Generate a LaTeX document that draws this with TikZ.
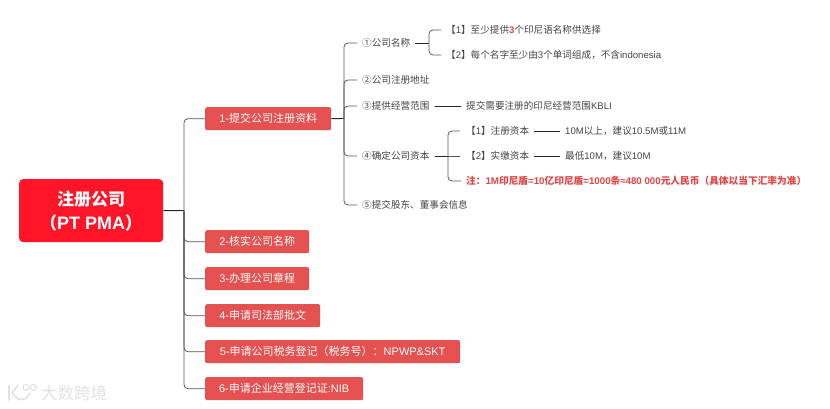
\documentclass[tikz,border=0pt]{standalone}
\usepackage{fontspec}
\setmainfont{Noto Sans CJK SC}
\newfontfamily\latf{Liberation Sans}
\newcommand{\lat}[1]{{\latf #1}}
\definecolor{rootred}{HTML}{FF1428}
\definecolor{subred}{HTML}{E55050}
\definecolor{notered}{HTML}{E24545}
\definecolor{txt}{HTML}{444444}
\definecolor{linec}{HTML}{555555}
\definecolor{wm}{HTML}{E2E2E2}
\tikzset{
  rootbox/.style={fill=rootred,rounded corners=4pt,text=white,font=\fontsize{17}{24}\selectfont\bfseries,align=center,anchor=north west,minimum width=144pt,minimum height=63pt,inner sep=0pt},
  mainbox/.style={fill=subred,rounded corners=2pt,text=white,font=\fontsize{11}{13}\selectfont,anchor=north west,minimum height=23pt,inner sep=0pt},
  item/.style={text=txt,font=\fontsize{9.6}{11}\selectfont,anchor=west,inner xsep=5pt,inner ysep=0pt},
  conn/.style={draw=linec,line width=0.8pt,rounded corners=4pt},
  darkconn/.style={draw=black!85,line width=0.9pt}
}
\begin{document}
\begin{tikzpicture}[x=1pt,y=-1pt]
\useasboundingbox[fill=white] (0,0) rectangle (830,409);
% root and main branches
\node[rootbox] (root) at (19,179) {注册公司\\（{\latf\bfseries\fontsize{18}{24}\selectfont PT PMA}）};
\node[mainbox,minimum width=126pt] (n1) at (205,107) {\lat{1-}提交公司注册资料};
\node[mainbox,minimum width=104pt] (n2) at (205,230) {\lat{2-}核实公司名称};
\node[mainbox,minimum width=104pt] (n3) at (205,267) {\lat{3-}办理公司章程};
\node[mainbox,minimum width=115pt] (n4) at (205,304) {\lat{4-}申请司法部批文};
\node[mainbox,minimum width=255pt] (n5) at (205,340) {\lat{5-}申请公司税务登记（税务号）：\lat{NPWP\&SKT}};
\node[mainbox,minimum width=158pt] (n6) at (205,377) {\lat{6-}申请企业经营登记证\lat{:NIB}};
\coordinate (s0) at (184,210.5);
\draw[darkconn] (root.east) -- (s0);
\foreach \n in {n1,n2,n3,n4,n5,n6} \draw[conn] (s0) |- (\n.west);
% second level
\node[item] (a1) at (357,43) {①公司名称};
\node[item] (a2) at (357,80) {②公司注册地址};
\node[item] (a3) at (357,106) {③提供经营范围};
\node[item] (a4) at (357,156) {④确定公司资本};
\node[item] (a5) at (357,205) {⑤提交股东、董事会信息};
\coordinate (s1) at (344,118.5);
\draw[darkconn] (n1.east) -- (s1);
\foreach \n in {a1,a2,a3,a4,a5} \draw[conn] (s1) |- (\n.west);
% company name
\node[item,inner xsep=0pt] (b1) at (446,30) {【\lat{1}】至少提供{\bfseries\color{notered}\lat{3}}个印尼语名称供选择};
\node[item,inner xsep=0pt] (b2) at (446,55) {【\lat{2}】每个名字至少由\lat{3}个单词组成，不含\lat{indonesia}};
\coordinate (s2) at (429,43);
\draw[darkconn] (a1.east) -- (s2);
\draw[conn] (s2) |- ([xshift=-5pt]b1.west);
\draw[conn] (s2) |- ([xshift=-5pt]b2.west);
% business scope
\node[item] (c1) at (461,106) {提交需要注册的印尼经营范围\lat{KBLI}};
\draw[darkconn] (a3.east) -- (c1.west);
% capital
\node[item,inner xsep=0pt] (d1) at (466,131) {【\lat{1}】注册资本};
\node[item,inner xsep=0pt] (d2) at (466,156) {【\lat{2}】实缴资本};
\node[item,text=notered,font=\fontsize{9.7}{11}\selectfont\bfseries] (d3) at (461,181) {注：\lat{1M}印尼盾\lat{=10}亿印尼盾\lat{=1000}条\lat{≈480 000}元人民币（具体以当下汇率为准）};
\node[item] (e1) at (560,131) {\lat{10M}以上，建议\lat{10.5M}或\lat{11M}};
\node[item] (e2) at (560,156) {最低\lat{10M}，建议\lat{10M}};
\coordinate (s3) at (448,156);
\draw[darkconn] (a4.east) -- (s3);
\draw[conn] (s3) |- ([xshift=-6pt]d1.west);
\draw[conn] (s3) -- ([xshift=-6pt]d2.west);
\draw[conn] (s3) |- (d3.west);
\draw[darkconn] ([xshift=5pt]d1.east) -- (e1.west);
\draw[darkconn] ([xshift=5pt]d2.east) -- (e2.west);
% watermark
\node[text=wm,font=\fontsize{16.5}{18}\selectfont,anchor=west,inner sep=0pt] (wmtext) at (41,393) {大数跨境};
\draw[wm,line width=1.6pt,line cap=round] (9,386) -- (9,400);
\draw[wm,line width=1.6pt,line cap=round] (18,385) -- (12,393) -- (18,399) .. controls (23,401) and (28,398) .. (30,393);
\draw[wm,line width=1.1pt] (26,387.5) circle (3pt);
\draw[wm,line width=1.1pt] (33.5,387.5) circle (3pt);
\end{tikzpicture}
\end{document}
